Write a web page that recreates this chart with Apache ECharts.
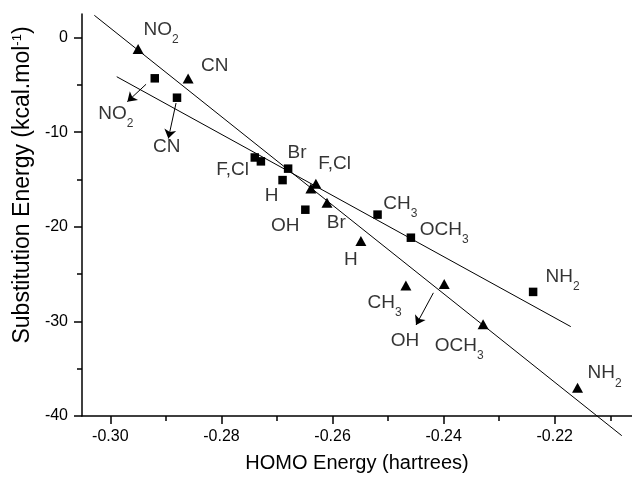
<!DOCTYPE html>
<html>
<head>
<meta charset="utf-8">
<style>
  html, body { margin: 0; padding: 0; background: #fff; }
  #chart { width: 632px; height: 478px; }
</style>
<script src="https://cdn.jsdelivr.net/npm/echarts@6/dist/echarts.min.js"></script>
</head>
<body>
<div id="chart"></div>
<script>
const FONT = '"Liberation Sans", Arial, sans-serif'

// substituents, same order for both series
const names = ['NO2', 'CN', 'F', 'Cl', 'Br', 'H', 'OH', 'CH3', 'OCH3', 'NH2']
// squares
const sqHomo = [-0.2920, -0.2880, -0.2740, -0.2729, -0.2680, -0.2690, -0.2649, -0.2519, -0.2459, -0.2239]
const sqEnergy = [-4.30, -6.35, -12.67, -13.08, -13.85, -15.06, -18.19, -18.71, -21.15, -26.88]
// triangles
const triHomo = [-0.2950, -0.2860, -0.2630, -0.2639, -0.2610, -0.2549, -0.2399, -0.2468, -0.2329, -0.2159]
const triEnergy = [-1.21, -4.33, -15.45, -15.94, -17.46, -21.51, -26.04, -26.21, -30.31, -37.01]

// fitted lines (end points)
const fitTriHomo = [-0.30288, -0.20794]
const fitTriEnergy = [2.36, -42.08]
const fitSqHomo = [-0.29885, -0.21712]
const fitSqEnergy = [-4.13, -30.55]

// annotations
const labelText = ['NO2', 'CN', 'F,Cl', 'Br', 'H', 'OH', 'CH3', 'OCH3', 'NH2',
  'NO2', 'CN', 'F,Cl', 'Br', 'H', 'OH', 'CH3', 'OCH3', 'NH2']
const labelHomo = [-0.29901, -0.28985, -0.27800, -0.26639, -0.27098, -0.26851, -0.24781, -0.23989, -0.21860,
  -0.29087, -0.28119, -0.25964, -0.25933, -0.25671, -0.24698, -0.25064, -0.23719, -0.21103]
const labelEnergy = [-8.05, -11.57, -14.01, -12.14, -16.70, -19.85, -17.53, -20.34, -25.27,
  0.80, -2.98, -13.36, -19.58, -23.52, -32.01, -28.02, -32.53, -35.48]

// arrows
const arrowFromHomo = [-0.29357, -0.28817, -0.24185]
const arrowFromEnergy = [-4.93, -6.91, -26.98]
const arrowToHomo = [-0.29694, -0.28956, -0.24497]
const arrowToEnergy = [-6.77, -10.66, -30.38]

// ticks
const xMajor = [-0.30, -0.28, -0.26, -0.24, -0.22]
const xMinor = [-0.29, -0.27, -0.25, -0.23, -0.21]
const yMajor = [0, -10, -20, -30, -40]
const yMinor = [-5, -15, -25, -35]

const zip = (a, b) => a.map((v, i) => [v, b[i]])

// trailing digit becomes a subscript
const richLabel = (s) => {
  const m = s.match(/^(.*?)(\d?)$/)
  return m[2] ? `{m|${m[1]}}{s|${m[2]}}` : `{m|${m[1]}}`
}

const chart = echarts.init(document.getElementById('chart'))

const xBase = {
  type: 'value', min: -0.3051, max: -0.2061, position: 'bottom',
  splitLine: {show: false}
}
const yBase = {
  type: 'value', min: -40, max: 2.5, position: 'left',
  splitLine: {show: false}
}
const axisLine = {onZero: false, lineStyle: {color: '#000', width: 1.5}}

const option = {
  backgroundColor: '#fff',
  animation: false,
  grid: {left: 82, right: 0, top: 14, bottom: 56},
  xAxis: [
    {
      ...xBase,
      axisLine,
      axisTick: {customValues: xMajor, length: 8, lineStyle: {color: '#000', width: 1.5}},
      axisLabel: {
        customValues: xMajor, formatter: v => v.toFixed(2), margin: 13,
        fontSize: 16, color: '#000', fontFamily: FONT
      },
      name: 'HOMO Energy (hartrees)',
      nameLocation: 'middle',
      nameGap: 37,
      nameTextStyle: {fontSize: 20, color: '#000', fontFamily: FONT}
    },
    {
      ...xBase,
      axisLine: {show: false, onZero: false},
      axisTick: {customValues: xMinor, length: 5, lineStyle: {color: '#000', width: 1.5}},
      axisLabel: {show: false}
    }
  ],
  yAxis: [
    {
      ...yBase,
      axisLine,
      axisTick: {customValues: yMajor, length: 8, lineStyle: {color: '#000', width: 1.5}},
      axisLabel: {
        customValues: yMajor, margin: 14,
        fontSize: 16, color: '#000', fontFamily: FONT
      },
      name: '{t|Substitution Energy (kcal.mol}{s|-1}{t|)}',
      nameLocation: 'middle',
      nameGap: 45,
      nameTextStyle: {
        color: '#000', fontFamily: FONT, padding: [0, 0, 0, 60],
        rich: {
          t: {fontSize: 23, lineHeight: 23, fontFamily: FONT, color: '#000'},
          s: {fontSize: 13, lineHeight: 13, fontFamily: FONT, color: '#000', verticalAlign: 'top'}
        }
      }
    },
    {
      ...yBase,
      axisLine: {show: false, onZero: false},
      axisTick: {customValues: yMinor, length: 5, lineStyle: {color: '#000', width: 1.5}},
      axisLabel: {show: false}
    }
  ],
  series: [
    {
      name: 'fit-tri', type: 'line', clip: false, silent: true,
      data: zip(fitTriHomo, fitTriEnergy),
      symbol: 'none', lineStyle: {color: '#000', width: 1}
    },
    {
      name: 'fit-sq', type: 'line', clip: false, silent: true,
      data: zip(fitSqHomo, fitSqEnergy),
      symbol: 'none', lineStyle: {color: '#000', width: 1}
    },
    {
      name: 'square', type: 'scatter',
      data: zip(sqHomo, sqEnergy),
      symbol: 'rect', symbolSize: 8.5,
      itemStyle: {color: '#000', opacity: 1}
    },
    {
      name: 'triangle', type: 'scatter',
      data: zip(triHomo, triEnergy),
      symbol: 'triangle', symbolSize: [11, 10],
      itemStyle: {color: '#000', opacity: 1}
    },
    {
      name: 'labels', type: 'scatter', silent: true,
      symbolSize: 0,
      data: labelText.map((t, i) => ({name: t, value: [labelHomo[i], labelEnergy[i]]})),
      label: {
        show: true, position: 'inside', color: '#000', textBorderWidth: 0,
        formatter: p => richLabel(p.name),
        rich: {
          m: {fontSize: 19, lineHeight: 19, fontFamily: FONT, color: '#000'},
          s: {fontSize: 12, fontFamily: FONT, color: '#000', padding: [20, 0, 0, 0]}
        }
      },
      markLine: {
        silent: true, animation: false,
        symbol: ['none', 'arrow'], symbolSize: 9,
        label: {show: false},
        lineStyle: {color: '#000', width: 1, type: 'solid'},
        data: arrowFromHomo.map((x, i) => [
          {coord: [x, arrowFromEnergy[i]]},
          {coord: [arrowToHomo[i], arrowToEnergy[i]]}
        ])
      }
    }
  ]
}

chart.setOption(option)
</script>
</body>
</html>
